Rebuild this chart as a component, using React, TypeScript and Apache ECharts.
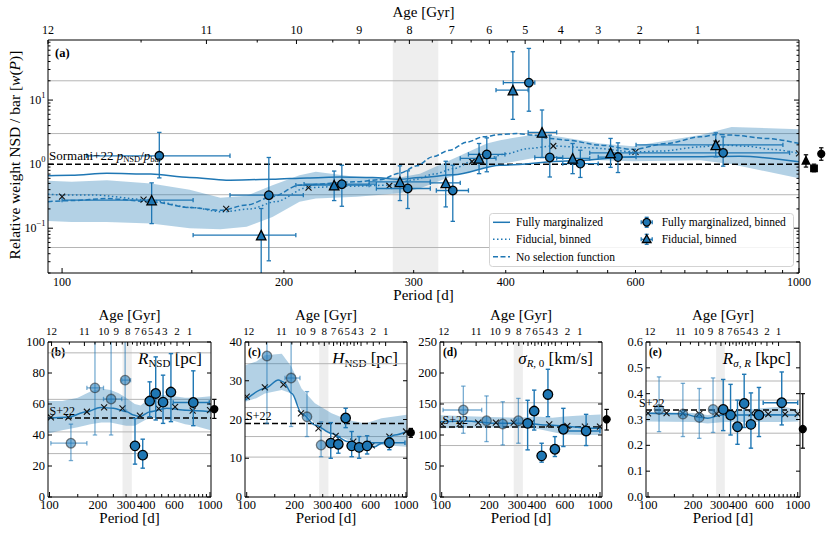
import React, { useEffect, useRef } from 'react';
import * as echarts from 'echarts';

// ---------------- shared tick labels ----------------
const ageLabels = ['12', '11', '10', '9', '8', '7', '6', '5', '4', '3', '2', '1'];
const agePeriodsA = [95.7, 157, 208, 253, 296, 338, 380, 425, 475, 534, 608, 729];
const ageHalfPeriodsA = [128, 184, 233, 283, 318, 359, 402, 450, 503, 570, 665];
const agePeriodsS = [103, 165, 218, 261, 307, 351, 388, 427, 472, 522, 623, 745];
const ageHalfPeriodsS = [133, 192, 240, 284, 329, 369, 407, 449, 496, 570, 680];
const periodLabels = [100, 200, 300, 400, 600, 1000];
const periodMinor = [150, 250, 350, 450, 500, 550, 650, 700, 750, 800, 850, 900, 950];
const yMajorA = [0.1, 1, 10];
const yMajorSupA = ['\u22121', '0', '1'];
const yMinorA = [0.02, 0.03, 0.04, 0.05, 0.06, 0.07, 0.08, 0.09, 0.2, 0.3, 0.4, 0.5, 0.6, 0.7, 0.8, 0.9, 2, 3, 4, 5, 6, 7, 8, 9, 20, 30, 40, 50, 60, 70, 80];

// ---------------- panel (a) ----------------
const aBandP = [95.7, 103, 115, 132, 149, 164, 178, 193, 210, 221, 251, 287, 306, 336, 377, 393, 446, 537, 595, 735, 810, 1000];
const aBandLo = [0.13, 0.125, 0.125, 0.118, 0.1, 0.096, 0.105, 0.15, 0.26, 0.29, 0.31, 0.35, 0.42, 0.63, 0.9, 1.0, 1.3, 1.15, 1.11, 1.15, 1.0, 0.6];
const aBandHi = [0.55, 0.53, 0.56, 0.5, 0.4, 0.3, 0.32, 0.47, 0.67, 0.76, 0.63, 0.62, 0.71, 1.15, 2.1, 2.37, 3.0, 2.1, 1.9, 2.84, 3.8, 3.5];
const aSolidP = [95.7, 103, 115, 132, 149, 167, 193, 215, 238, 264, 287, 306, 340, 393, 484, 595, 700, 830, 1000];
const aSolidV = [0.66, 0.67, 0.72, 0.7, 0.62, 0.56, 0.58, 0.61, 0.63, 0.62, 0.58, 0.62, 0.68, 0.96, 1.12, 1.3, 1.3, 1.33, 1.09];
const aDotP = [95.7, 100, 110, 130, 150, 165, 180, 195, 215, 240, 280, 300, 320, 340, 360, 380, 400, 430, 464, 520, 600, 650, 735, 780, 850, 920, 1000];
const aDotV = [0.34, 0.33, 0.33, 0.28, 0.21, 0.18, 0.2, 0.26, 0.43, 0.45, 0.47, 0.57, 0.7, 0.85, 1.1, 1.25, 1.45, 1.76, 1.92, 1.8, 1.55, 1.6, 1.86, 2.0, 1.9, 1.7, 1.47];
const aDashP = [95.7, 103, 115, 132, 149, 164, 178, 193, 210, 251, 270, 287, 303, 318, 336, 354, 373, 393, 414, 436, 459, 484, 537, 595, 661, 735, 773, 813, 903, 1000];
const aDashV = [0.26, 0.27, 0.29, 0.26, 0.21, 0.19, 0.23, 0.31, 0.47, 0.53, 0.57, 0.72, 0.94, 1.3, 1.65, 2.2, 2.67, 2.9, 3.0, 2.84, 2.52, 2.37, 1.98, 1.7, 2.1, 2.67, 2.9, 2.84, 2.52, 2.1];
const aCrossP = [100, 129, 167, 216, 278, 360, 464, 600, 773, 1000];
const aCrossV = [0.31, 0.28, 0.2, 0.43, 0.46, 1.1, 1.92, 1.55, 2.1, 1.47];
const aCircP = [135.5, 190.8, 239.7, 294.5, 339, 377, 430, 459, 505, 568, 789];
const aCircV = [1.35, 0.328, 0.487, 0.417, 0.388, 1.42, 18.7, 1.27, 1.02, 1.29, 1.5];
const aCircLo = [0.61, 0.031, 0.22, 0.203, 0.128, 0.76, 6.7, 0.63, 0.62, 0.74, 0.93];
const aCircHi = [3.13, 1.27, 0.96, 0.786, 0.96, 2.57, 64, 2.84, 1.65, 2.15, 2.67];
const aCircXlo = [108, 169, 213, 267, 322, 356, 397, 438, 478, 534, 589];
const aCircXhi = [169, 212.5, 267, 316, 356, 399, 438, 478, 534, 601, 971];
const aTriP = [132.3, 186.3, 234, 287.4, 331.6, 368, 409, 448, 493, 555, 771];
const aTriV = [0.274, 0.078, 0.47, 0.53, 0.51, 1.23, 14.3, 3.13, 1.23, 1.5, 2.0];
const aTriLo = [0.118, 0.005, 0.27, 0.27, 0.215, 0.71, 5.0, 1.27, 0.71, 0.89, 1.3];
const aTriHi = [0.51, 0.203, 0.78, 0.94, 1.11, 2.1, 56.8, 7.0, 2.1, 2.52, 3.08];
const aTriXlo = [100, 150.6, 207.6, 261, 316, 347, 388, 429, 469, 520, 601];
const aTriXhi = [150.6, 207.6, 261, 316, 347, 388, 429, 469, 520, 601, 951];
const aRefP = [1022, 1048, 1072];
const aRefV = [1.15, 0.86, 1.45];
const aRefLo = [0.9, 0.76, 1.15];
const aRefHi = [1.4, 1.0, 1.8];
const aGray = [20, 3, 0.333, 0.05];
const aS22 = 1;

// ---------------- panel (b) R_NSD ----------------
const bBandP = [98, 120, 150, 180, 210, 240, 270, 300, 340, 370, 400, 450, 500, 600, 700, 800, 1010];
const bBandLo = [41, 43, 45, 47, 48, 48, 47, 46, 46, 48, 50, 51, 50, 49, 47, 46, 43];
const bBandHi = [62, 62, 64, 68, 70, 69, 67, 64, 60, 59, 62, 65, 66, 65, 64, 64, 65];
const bLineP = [98, 130, 170, 207, 250, 303, 333, 366, 423, 537, 715, 1010];
const bLineV = [50.7, 51.4, 55, 57.8, 57.2, 55, 52.9, 51.8, 55, 57.2, 56, 55];
const bCrossP = [102, 131, 171, 219, 285, 366, 479, 606, 780, 1000];
const bCrossV = [51.4, 51.4, 55, 57.8, 57.2, 52.5, 57, 58.2, 55.7, 56.1];
const bFadeP = [136, 192, 242, 296];
const bFadeV = [34.7, 70.4, 63.2, 75.4];
const bFadeLo = [23.5, 40, 40, 56];
const bFadeHi = [47, 110, 110, 110];
const bFadeXlo = [102, 171, 217, 282];
const bFadeXhi = [171, 217, 282, 320];
const bPtP = [341, 381, 421, 459, 510, 571, 787];
const bPtV = [33, 27, 61.9, 66.8, 61.2, 67.7, 61];
const bPtLo = [21.2, 18.6, 51.8, 49.7, 47.5, 48.6, 46];
const bPtHi = [50.7, 37.3, 74.3, 90.4, 78.6, 92.5, 81.4];
const bPtXlo = [341, 381, 421, 459, 510, 571, 590];
const bPtXhi = [341, 381, 421, 459, 510, 571, 990];
const bRef = [1064, 56.7, 50.7, 63];
const bGray = [93, 63, 42, 28];
const bS22 = 51;
const bYTicks = [0, 20, 40, 60, 80, 100];

// ---------------- panel (c) H_NSD ----------------
const cBandP = [98, 115, 130, 166, 191, 221, 268, 341, 434, 553, 703, 1010];
const cBandLo = [24.6, 25.5, 26.7, 27.6, 26.7, 22.4, 19, 16.4, 14.7, 13, 13.4, 13];
const cBandHi = [34, 35, 36.6, 37, 33.6, 28, 24.2, 21.6, 19.9, 19, 20.3, 21.2];
const cLineP = [98, 130, 158, 170, 192, 221, 268, 341, 434, 553, 638, 703, 852, 1010];
const cLineV = [25, 28, 30.2, 29.7, 26.7, 21.6, 18.6, 16.4, 14.3, 13, 13, 13.9, 16, 16.9];
const cCrossP = [100, 130, 170, 219, 282, 362, 467, 610, 786, 1000];
const cCrossV = [25.9, 28.3, 29, 21.6, 17.7, 15.8, 14.3, 13.3, 15.6, 16.9];
const cFadeP = [134, 190, 239, 293];
const cFadeV = [36.4, 30.7, 20.7, 13.4];
const cFadeLo = [19, 18.2, 15.6, 10.4];
const cFadeHi = [45, 45, 27.2, 19.4];
const cFadeXlo = [134, 174, 239, 293];
const cFadeXhi = [134, 216, 239, 293];
const cPtP = [337, 376, 418, 456, 508, 570, 786];
const cPtV = [13.9, 13.6, 20.4, 13.2, 12.8, 13.2, 14];
const cPtLo = [10, 11.3, 17.9, 10.4, 10, 11.1, 12.2];
const cPtHi = [19.2, 15.6, 22.9, 16.9, 15.6, 15.8, 15.6];
const cPtXlo = [337, 376, 418, 456, 508, 570, 595];
const cPtXhi = [337, 376, 418, 456, 508, 570, 985];
const cRef = [1072, 16.6, 15.4, 17.7];
const cGray = [34.4, 23.1, 15.6, 10.3];
const cS22 = 19;
const cYTicks = [0, 10, 20, 30, 40];

// ---------------- panel (d) sigma_R,0 ----------------
const dBandP = [98, 200, 300, 400, 500, 600, 800, 1010];
const dBandLo = [111, 112, 112, 110, 105, 101, 100, 100];
const dBandHi = [132, 129, 128, 130, 128, 130, 132, 133];
const dLineP = [98, 140, 228, 336, 472, 663, 844, 1010];
const dLineV = [121.5, 122.6, 118.8, 118.8, 116, 113.5, 110.8, 110.8];
const dCrossP = [100, 130, 170, 220, 285, 370, 478, 622, 802, 1000];
const dCrossV = [117.8, 117.8, 120, 120, 120, 120, 117, 114.6, 113.5, 113.5];
const dFadeP = [137, 192, 243, 305];
const dFadeV = [140.3, 123, 117.8, 123];
const dFadeLo = [102.8, 89.4, 84, 86.7];
const dFadeHi = [178.8, 163, 153.6, 159];
const dFadeXlo = [102, 192, 243, 305];
const dFadeXhi = [179, 192, 243, 305];
const dPtP = [349, 384, 428, 469, 519, 587, 817];
const dPtV = [118.8, 138.6, 66.4, 165.4, 77, 109.2, 106.5];
const dPtLo = [76, 108, 56.2, 129.5, 65.3, 81.4, 83];
const dPtHi = [156, 172.4, 86.7, 206, 97.4, 143, 133.3];
const dPtXlo = [349, 384, 428, 469, 519, 587, 601];
const dPtXhi = [349, 384, 428, 469, 519, 587, 1000];
const dRef = [1102, 125.3, 108, 141.3];
const dGray = [152, 83];
const dS22 = 113;
const dYTicks = [0, 50, 100, 150, 200, 250];

// ---------------- panel (e) R_sigma,R ----------------
const eBandP = [98, 200, 250, 320, 400, 500, 600, 800, 1010];
const eBandLo = [0.292, 0.29, 0.285, 0.29, 0.29, 0.29, 0.29, 0.29, 0.292];
const eBandHi = [0.33, 0.325, 0.317, 0.325, 0.335, 0.34, 0.345, 0.35, 0.337];
const eLineP = [98, 171, 216, 250, 310, 450, 700, 1010];
const eLineV = [0.324, 0.322, 0.31, 0.305, 0.317, 0.317, 0.318, 0.317];
const eCrossP = [100, 133, 171, 220, 287, 374, 492, 636, 823, 1000];
const eCrossV = [0.324, 0.325, 0.324, 0.322, 0.322, 0.324, 0.324, 0.321, 0.321, 0.322];
const eFadeP = [118.5, 171, 220, 272];
const eFadeV = [0.339, 0.321, 0.308, 0.339];
const eFadeLo = [0.253, 0.234, 0.227, 0.25];
const eFadeHi = [0.465, 0.44, 0.42, 0.461];
const eFadeXlo = [118.5, 171, 220, 272];
const eFadeXhi = [118.5, 171, 220, 272];
const ePtP = [318, 356, 396, 439, 487, 551, 782];
const ePtV = [0.339, 0.317, 0.272, 0.362, 0.281, 0.317, 0.365];
const ePtLo = [0.257, 0.24, 0.204, 0.269, 0.189, 0.234, 0.279];
const ePtHi = [0.455, 0.436, 0.375, 0.475, 0.403, 0.424, 0.484];
const ePtXlo = [318, 356, 396, 439, 487, 551, 588];
const ePtXhi = [318, 356, 396, 439, 487, 551, 1000];
const eRef = [1081, 0.263, 0.189, 0.4];
const eGray = [0.449, 0.375, 0.247];
const eS22 = 0.337;
const eYTicks = [0, 0.1, 0.2, 0.3, 0.4, 0.5, 0.6];

// ---------------- styling / layout ----------------
const FF = "'Liberation Serif', 'DejaVu Serif', serif";
const BLUE = '#1f77b4';
const BAND = 'rgba(31,119,180,0.34)';
const FADE = 'rgba(31,119,180,0.55)';
const L10 = Math.log10;
const ident = (v: number) => v;

const panels = [
  { g: { left: 48, top: 40, width: 751, height: 233 }, xr: [L10(95.7), 3.0], yr: [L10(0.02), L10(86.6)] },
  { g: { left: 48, top: 342, width: 163, height: 155 }, xr: [1.9907, 3.0063], yr: [0, 100] },
  { g: { left: 245, top: 342, width: 162, height: 155 }, xr: [1.9893, 3.0063], yr: [0, 40] },
  { g: { left: 440, top: 342, width: 162, height: 155 }, xr: [1.9893, 3.0127], yr: [0, 250] },
  { g: { left: 646, top: 342, width: 154, height: 155 }, xr: [1.9866, 3.0153], yr: [0, 0.6] },
];

let mctx: any = null;
function measure(t: string, s: number, it = false, b = false) {
  if (!mctx) mctx = document.createElement('canvas').getContext('2d');
  if (!mctx) return t.length * s * 0.5;
  mctx.font = `${it ? 'italic ' : ''}${b ? 'bold ' : ''}${s}px ${FF}`;
  return mctx.measureText(t).width;
}
function txt(t: string, x: number, y: number, s: number, align = 'center', vAlign = 'middle', it = false, b = false) {
  return {
    type: 'text', x, y, silent: true,
    style: {
      text: t, fontSize: s, fontFamily: FF, fontStyle: it ? 'italic' : 'normal', fontWeight: b ? 'bold' : 'normal',
      fill: '#000', align, verticalAlign: vAlign, textAlign: align, textVerticalAlign: vAlign,
    },
  };
}
type Part = { t: string; s: number; i?: boolean; b?: boolean; dy?: number };
function comp(parts: Part[], x: number, y: number, align: string) {
  const ws = parts.map((p) => measure(p.t, p.s, p.i, p.b));
  const tot = ws.reduce((a, b) => a + b, 0);
  let cx = align === 'left' ? x : align === 'right' ? x - tot : x - tot / 2;
  const out: any[] = [];
  parts.forEach((p, k) => {
    out.push(txt(p.t, cx, y + (p.dy || 0), p.s, 'left', 'middle', p.i, p.b));
    cx += ws[k];
  });
  return out;
}
function seg(x1: number, y1: number, x2: number, y2: number, stroke = '#000', lw = 1, dash?: number[]) {
  const style: any = { stroke, lineWidth: lw };
  if (dash) style.lineDash = dash;
  return { type: 'line', shape: { x1, y1, x2, y2 }, style };
}

// ---------------- series builders ----------------
function vband(i: number, p0: number, p1: number) {
  const d = panels[i];
  return {
    type: 'custom', xAxisIndex: i, yAxisIndex: i, silent: true, z: 1, clip: true,
    data: [[L10(p0), d.yr[1]]],
    renderItem: (_p: any, api: any) => {
      const a = api.coord([L10(p0), d.yr[1]]);
      const b = api.coord([L10(p1), d.yr[0]]);
      return { type: 'rect', shape: { x: a[0], y: a[1], width: b[0] - a[0], height: b[1] - a[1] }, style: { fill: 'rgba(0,0,0,0.065)' } };
    },
  };
}
function hlines(i: number, vals: number[], fy: any, stroke: string, lw: number, z: number, dash?: number[]) {
  const d = panels[i];
  return {
    type: 'custom', xAxisIndex: i, yAxisIndex: i, silent: true, z, clip: true,
    data: vals.map((v) => [d.xr[0], fy(v)]),
    renderItem: (p: any, api: any) => {
      const v = fy(vals[p.dataIndex]);
      const a = api.coord([d.xr[0], v]);
      const b = api.coord([d.xr[1], v]);
      return seg(a[0], a[1], b[0], b[1], stroke, lw, dash);
    },
  };
}
function band(i: number, P: number[], lo: number[], hi: number[], fy: any) {
  return {
    type: 'custom', xAxisIndex: i, yAxisIndex: i, silent: true, z: 2, clip: true,
    data: [[L10(P[0]), fy(lo[0])]],
    renderItem: (_p: any, api: any) => {
      const pts: any[] = [];
      P.forEach((p, k) => pts.push(api.coord([L10(p), fy(hi[k])])));
      for (let k = P.length - 1; k >= 0; k--) pts.push(api.coord([L10(P[k]), fy(lo[k])]));
      return { type: 'polygon', shape: { points: pts }, style: { fill: BAND } };
    },
  };
}
function curve(i: number, P: number[], V: number[], fy: any, type: any, lw = 1.5, color = BLUE) {
  return {
    type: 'line', xAxisIndex: i, yAxisIndex: i, silent: true, z: 3, showSymbol: false, symbol: 'none',
    smooth: 0.3, smoothMonotone: 'x',
    data: P.map((p, k) => [L10(p), fy(V[k])]),
    lineStyle: { color, width: lw, type },
  };
}
function crosses(i: number, P: number[], V: number[], fy: any) {
  return {
    type: 'custom', xAxisIndex: i, yAxisIndex: i, silent: true, z: 4, clip: true,
    data: P.map((p, k) => [L10(p), fy(V[k])]),
    renderItem: (p: any, api: any) => {
      const c = api.coord([L10(P[p.dataIndex]), fy(V[p.dataIndex])]);
      const r = 3;
      return {
        type: 'group',
        children: [seg(c[0] - r, c[1] - r, c[0] + r, c[1] + r, '#111', 1.1), seg(c[0] - r, c[1] + r, c[0] + r, c[1] - r, '#111', 1.1)],
      };
    },
  };
}
function errbars(i: number, P: number[], V: number[], lo: number[], hi: number[], xlo: number[], xhi: number[], fy: any, color: string, lw: number, cap: number, clip: boolean, z = 4) {
  return {
    type: 'custom', xAxisIndex: i, yAxisIndex: i, silent: true, z, clip,
    data: P.map((p, k) => [L10(p), fy(V[k])]),
    renderItem: (pr: any, api: any) => {
      const k = pr.dataIndex;
      const x = L10(P[k]);
      const y = fy(V[k]);
      const a = api.coord([x, fy(lo[k])]);
      const b = api.coord([x, fy(hi[k])]);
      const ch: any[] = [seg(a[0], a[1], b[0], b[1], color, lw), seg(a[0] - cap, a[1], a[0] + cap, a[1], color, lw), seg(b[0] - cap, b[1], b[0] + cap, b[1], color, lw)];
      if (xlo[k] !== xhi[k]) {
        const l = api.coord([L10(xlo[k]), y]);
        const r = api.coord([L10(xhi[k]), y]);
        ch.push(seg(l[0], l[1], r[0], r[1], color, lw), seg(l[0], l[1] - cap, l[0], l[1] + cap, color, lw), seg(r[0], r[1] - cap, r[0], r[1] + cap, color, lw));
      }
      return { type: 'group', children: ch };
    },
  };
}
function markers(i: number, P: number[], V: number[], fy: any, symbol: any, size: number, fill: string, border: string, clip = true, z = 5) {
  return {
    type: 'scatter', xAxisIndex: i, yAxisIndex: i, silent: true, z, clip,
    symbol, symbolSize: size,
    data: P.map((p, k) => [L10(p), fy(V[k])]),
    itemStyle: { color: fill, borderColor: border, borderWidth: 1.3, opacity: 1 },
  };
}
function anchoredText(i: number, xv: number, yv: number, build: (x: number, y: number) => any[]) {
  return {
    type: 'custom', xAxisIndex: i, yAxisIndex: i, silent: true, z: 8, clip: false,
    data: [[xv, yv]],
    renderItem: (_p: any, api: any) => {
      const c = api.coord([xv, yv]);
      return { type: 'group', children: build(c[0], c[1]) };
    },
  };
}
type Tick = { v: number; len: number; label?: string; sup?: string };
function axes(i: number, spec: { bottom: Tick[]; top: Tick[]; left: Tick[]; right: Tick[]; bFont: number; tFont: number; lFont: number; bOff: number; tOff: number }) {
  const d = panels[i];
  return {
    type: 'custom', xAxisIndex: i, yAxisIndex: i, silent: true, z: 10, clip: false,
    data: [[d.xr[0], d.yr[0]]],
    renderItem: (_p: any, api: any) => {
      const p0 = api.coord([d.xr[0], d.yr[0]]);
      const p1 = api.coord([d.xr[1], d.yr[1]]);
      const L = p0[0], B = p0[1], R = p1[0], T = p1[1];
      const ch: any[] = [{ type: 'rect', shape: { x: L, y: T, width: R - L, height: B - T }, style: { fill: 'none', stroke: '#000', lineWidth: 1 } }];
      spec.bottom.forEach((t) => {
        const x = api.coord([t.v, d.yr[0]])[0];
        ch.push(seg(x, B, x, B - t.len));
        if (t.label) ch.push(txt(t.label, x, B + spec.bOff, spec.bFont));
      });
      spec.top.forEach((t) => {
        const x = api.coord([t.v, d.yr[1]])[0];
        ch.push(seg(x, T, x, T + t.len));
        if (t.label) ch.push(txt(t.label, x, T - spec.tOff, spec.tFont));
      });
      spec.left.forEach((t) => {
        const y = api.coord([d.xr[0], t.v])[1];
        ch.push(seg(L, y, L + t.len, y));
        if (t.label) {
          if (t.sup) {
            const sw = measure(t.sup, 8.5);
            ch.push(txt(t.sup, L - 2.5, y - 5, 8.5, 'right'));
            ch.push(txt(t.label, L - 2.5 - sw, y, spec.lFont, 'right'));
          } else {
            ch.push(txt(t.label, L - 3, y, spec.lFont, 'right'));
          }
        }
      });
      spec.right.forEach((t) => {
        const y = api.coord([d.xr[1], t.v])[1];
        ch.push(seg(R, y, R - t.len, y));
      });
      return { type: 'group', children: ch };
    },
  };
}

function periodTicks(withLabels: boolean): Tick[] {
  const out: Tick[] = periodLabels.map((p) => ({ v: L10(p), len: p === 100 || p === 1000 ? 5 : 3, label: withLabels ? String(p) : undefined }));
  periodMinor.forEach((p) => out.push({ v: L10(p), len: 3 }));
  return out;
}
function ageTicks(major: number[], half: number[]): Tick[] {
  const out: Tick[] = major.map((p, k) => ({ v: L10(p), len: 4, label: ageLabels[k] }));
  half.forEach((p) => out.push({ v: L10(p), len: 2.5 }));
  return out;
}

function buildOption() {
  const series: any[] = [];
  // ---- panel a ----
  const fa = L10;
  series.push(vband(0, 281, 324));
  series.push(hlines(0, aGray, fa, '#b5b5b5', 1, 1));
  series.push(band(0, aBandP, aBandLo, aBandHi, fa));
  series.push(hlines(0, [aS22], fa, '#000', 1.5, 3, [6, 3]));
  series.push(curve(0, aSolidP, aSolidV, fa, 'solid'));
  series.push(curve(0, aDotP, aDotV, fa, [1.5, 2.5]));
  series.push(curve(0, aDashP, aDashV, fa, [5, 2.5]));
  series.push(crosses(0, aCrossP, aCrossV, fa));
  series.push(errbars(0, aCircP, aCircV, aCircLo, aCircHi, aCircXlo, aCircXhi, fa, BLUE, 1.3, 2.2, true));
  series.push(errbars(0, aTriP, aTriV, aTriLo, aTriHi, aTriXlo, aTriXhi, fa, BLUE, 1.3, 2.2, true));
  series.push(markers(0, aCircP, aCircV, fa, 'circle', 8.5, BLUE, '#000'));
  series.push(markers(0, aTriP, aTriV, fa, 'triangle', 9.5, BLUE, '#000'));
  series.push(errbars(0, aRefP, aRefV, aRefLo, aRefHi, aRefP, aRefP, fa, '#000', 1.2, 2.2, false));
  series.push(markers(0, [aRefP[0]], [aRefV[0]], fa, 'triangle', 7.5, '#000', '#000', false));
  series.push(markers(0, [aRefP[1]], [aRefV[1]], fa, 'rect', 6.5, '#000', '#000', false));
  series.push(markers(0, [aRefP[2]], [aRefV[2]], fa, 'circle', 7, '#000', '#000', false));
  const aLeft: Tick[] = yMajorA.map((v, k) => ({ v: L10(v), len: 5, label: '10', sup: yMajorSupA[k] }));
  yMinorA.forEach((v) => aLeft.push({ v: L10(v), len: 2.5 }));
  series.push(axes(0, {
    bottom: periodTicks(true), top: ageTicks(agePeriodsA, ageHalfPeriodsA),
    left: aLeft, right: aLeft.map((t) => ({ v: t.v, len: t.len })),
    bFont: 12, tFont: 12, lFont: 12, bOff: 9, tOff: 10,
  }));
  series.push(anchoredText(0, panels[0].xr[0], L10(aS22), (x, y) =>
    comp([
      { t: 'Sormani+22 ', s: 13 }, { t: 'p', s: 13, i: true }, { t: 'NSD', s: 8.5, dy: 3.5 },
      { t: '/', s: 13 }, { t: 'p', s: 13, i: true }, { t: 'bar', s: 8.5, dy: 3.5 },
    ], x + 1, y - 9, 'left')));

  // ---- small panels ----
  const small = [
    { band: [bBandP, bBandLo, bBandHi], line: [bLineP, bLineV], cross: [bCrossP, bCrossV], fade: [bFadeP, bFadeV, bFadeLo, bFadeHi, bFadeXlo, bFadeXhi], pt: [bPtP, bPtV, bPtLo, bPtHi, bPtXlo, bPtXhi], ref: bRef, gray: bGray, s22: bS22, yt: bYTicks, fmt: (v: number) => String(v), sdx: 1.5 },
    { band: [cBandP, cBandLo, cBandHi], line: [cLineP, cLineV], cross: [cCrossP, cCrossV], fade: [cFadeP, cFadeV, cFadeLo, cFadeHi, cFadeXlo, cFadeXhi], pt: [cPtP, cPtV, cPtLo, cPtHi, cPtXlo, cPtXhi], ref: cRef, gray: cGray, s22: cS22, yt: cYTicks, fmt: (v: number) => String(v), sdx: 1 },
    { band: [dBandP, dBandLo, dBandHi], line: [dLineP, dLineV], cross: [dCrossP, dCrossV], fade: [dFadeP, dFadeV, dFadeLo, dFadeHi, dFadeXlo, dFadeXhi], pt: [dPtP, dPtV, dPtLo, dPtHi, dPtXlo, dPtXhi], ref: dRef, gray: dGray, s22: dS22, yt: dYTicks, fmt: (v: number) => String(v), sdx: 2.5 },
    { band: [eBandP, eBandLo, eBandHi], line: [eLineP, eLineV], cross: [eCrossP, eCrossV], fade: [eFadeP, eFadeV, eFadeLo, eFadeHi, eFadeXlo, eFadeXhi], pt: [ePtP, ePtV, ePtLo, ePtHi, ePtXlo, ePtXhi], ref: eRef, gray: eGray, s22: eS22, yt: eYTicks, fmt: (v: number) => v.toFixed(1), sdx: -7 },
  ];
  small.forEach((s, k) => {
    const i = k + 1;
    const f = ident;
    series.push(vband(i, 285, 326));
    series.push(hlines(i, s.gray, f, '#b5b5b5', 1, 1));
    series.push(band(i, s.band[0], s.band[1], s.band[2], f));
    series.push(hlines(i, [s.s22], f, '#000', 1.5, 3, [6, 3]));
    series.push(curve(i, s.line[0], s.line[1], f, 'solid', 1.5));
    series.push(crosses(i, s.cross[0], s.cross[1], f));
    series.push(errbars(i, s.fade[0], s.fade[1], s.fade[2], s.fade[3], s.fade[4], s.fade[5], f, 'rgba(31,119,180,0.6)', 1.3, 2.2, true));
    series.push(markers(i, s.fade[0], s.fade[1], f, 'circle', 9.5, FADE, 'rgba(40,40,40,0.55)'));
    series.push(errbars(i, s.pt[0], s.pt[1], s.pt[2], s.pt[3], s.pt[4], s.pt[5], f, BLUE, 1.4, 2.2, true));
    series.push(markers(i, s.pt[0], s.pt[1], f, 'circle', 9.5, BLUE, '#000'));
    series.push(errbars(i, [s.ref[0]], [s.ref[1]], [s.ref[2]], [s.ref[3]], [s.ref[0]], [s.ref[0]], f, '#000', 1.2, 2.2, false));
    series.push(markers(i, [s.ref[0]], [s.ref[1]], f, 'circle', 7, '#000', '#000', false));
    const left: Tick[] = s.yt.map((v) => ({ v, len: 4, label: s.fmt(v) }));
    series.push(axes(i, {
      bottom: periodTicks(true), top: ageTicks(agePeriodsS, ageHalfPeriodsS),
      left, right: s.yt.map((v) => ({ v, len: 4 })),
      bFont: 12.5, tFont: 11, lFont: 12.5, bOff: 8, tOff: 11,
    }));
    series.push(anchoredText(i, panels[i].xr[0], s.s22, (x, y) => [txt('S+22', x + s.sdx, y - 7, 12, 'left')]));
  });

  // ---- graphic texts ----
  const g: any[] = [];
  const pa = panels[0].g;
  g.push(txt('Age [Gyr]', pa.left + pa.width / 2, pa.top - 28, 15));
  g.push(txt('Period [d]', pa.left + pa.width / 2, pa.top + pa.height + 22, 15));
  g.push(txt('(a)', pa.left + 7, pa.top + 13, 12.5, 'left', 'middle', false, true));
  g.push({
    type: 'group', x: 14, y: 155, rotation: Math.PI / 2,
    children: comp([
      { t: 'Relative weight NSD / bar [', s: 15.5 }, { t: 'w', s: 15.5, i: true }, { t: '(', s: 15.5 },
      { t: 'P', s: 15.5, i: true }, { t: ')]', s: 15.5 },
    ], 0, 0, 'center'),
  });
  const letters = ['(b)', '(c)', '(d)', '(e)'];
  const titles: Part[][] = [
    [{ t: 'R', s: 17, i: true }, { t: 'NSD', s: 11, dy: 5 }, { t: ' [pc]', s: 17 }],
    [{ t: 'H', s: 17, i: true }, { t: 'NSD', s: 11, dy: 5 }, { t: ' [pc]', s: 17 }],
    [{ t: '\u03c3', s: 17, i: true }, { t: 'R', s: 11, i: true, dy: 5 }, { t: ', 0', s: 11, dy: 5 }, { t: ' [km/s]', s: 17 }],
    [{ t: 'R', s: 17, i: true }, { t: '\u03c3', s: 11, i: true, dy: 5 }, { t: ', ', s: 11, dy: 5 }, { t: 'R', s: 11, i: true, dy: 5 }, { t: ' [kpc]', s: 17 }],
  ];
  for (let k = 1; k < 5; k++) {
    const gg = panels[k].g;
    g.push(txt('Age [Gyr]', gg.left + gg.width / 2, gg.top - 27, 15));
    g.push(txt('Period [d]', gg.left + gg.width / 2, gg.top + gg.height + 21, 15));
    g.push(txt(letters[k - 1], gg.left + 3, gg.top + 10, 11.5, 'left', 'middle', false, true));
    comp(titles[k - 1], gg.left + gg.width - 9, gg.top + 16, 'right').forEach((e) => g.push(e));
  }
  // legend
  const lx0 = 489.5, ly0 = 213.5, lw = 304, lh = 53;
  g.push({ type: 'rect', shape: { x: lx0, y: ly0, width: lw, height: lh, r: 3 }, style: { fill: 'rgba(255,255,255,0.85)', stroke: '#d3d3d3', lineWidth: 1 }, z: 20 });
  const rows = [222.3, 239.3, 256.7];
  const legendLines = [undefined, [1.5, 2.5], [5, 2.5]];
  const legendText1 = ['Fully marginalized', 'Fiducial, binned', 'No selection function'];
  rows.forEach((y, k) => {
    g.push({ ...seg(493, y, 510, y, BLUE, 1.5, legendLines[k] as any), z: 21 });
    g.push({ ...txt(legendText1[k], 516, y, 11.5, 'left'), z: 21 });
  });
  const legendText2 = ['Fully marginalized, binned', 'Fiducial, binned'];
  [0, 1].forEach((k) => {
    const y = rows[k];
    const mx = 646.7;
    [seg(mx, y - 5, mx, y + 5, BLUE, 1.3), seg(mx - 2, y - 5, mx + 2, y - 5, BLUE, 1.3), seg(mx - 2, y + 5, mx + 2, y + 5, BLUE, 1.3),
      seg(mx - 5.5, y, mx + 5.5, y, BLUE, 1.3), seg(mx - 5.5, y - 2, mx - 5.5, y + 2, BLUE, 1.3), seg(mx + 5.5, y - 2, mx + 5.5, y + 2, BLUE, 1.3)]
      .forEach((e) => g.push({ ...e, z: 21 }));
    if (k === 0) g.push({ type: 'circle', shape: { cx: mx, cy: y, r: 3.8 }, style: { fill: BLUE, stroke: '#000', lineWidth: 1.3 }, z: 22 });
    else g.push({ type: 'polygon', shape: { points: [[mx, y - 4.5], [mx - 4.3, y + 3.2], [mx + 4.3, y + 3.2]] }, style: { fill: BLUE, stroke: '#000', lineWidth: 1.3 }, z: 22 });
    g.push({ ...txt(legendText2[k], 661.7, y, 11.5, 'left'), z: 21 });
  });

  return {
    animation: false,
    backgroundColor: '#fff',
    grid: panels.map((p) => ({ left: p.g.left, top: p.g.top, width: p.g.width, height: p.g.height, show: false, containLabel: false })),
    xAxis: panels.map((p, i) => ({ type: 'value', gridIndex: i, min: p.xr[0], max: p.xr[1], show: false, splitLine: { show: false } })),
    yAxis: panels.map((p, i) => ({ type: 'value', gridIndex: i, min: p.yr[0], max: p.yr[1], show: false, splitLine: { show: false } })),
    series,
    graphic: { elements: g },
  };
}

export default function App() {
  const ref = useRef<HTMLDivElement>(null);
  useEffect(() => {
    document.body.style.margin = '0';
    const chart = echarts.init(ref.current as HTMLDivElement, undefined, { renderer: 'svg', width: 830, height: 533 });
    chart.setOption(buildOption() as any);
    return () => chart.dispose();
  }, []);
  return <div ref={ref} style={{ width: 830, height: 533 }} />;
}
